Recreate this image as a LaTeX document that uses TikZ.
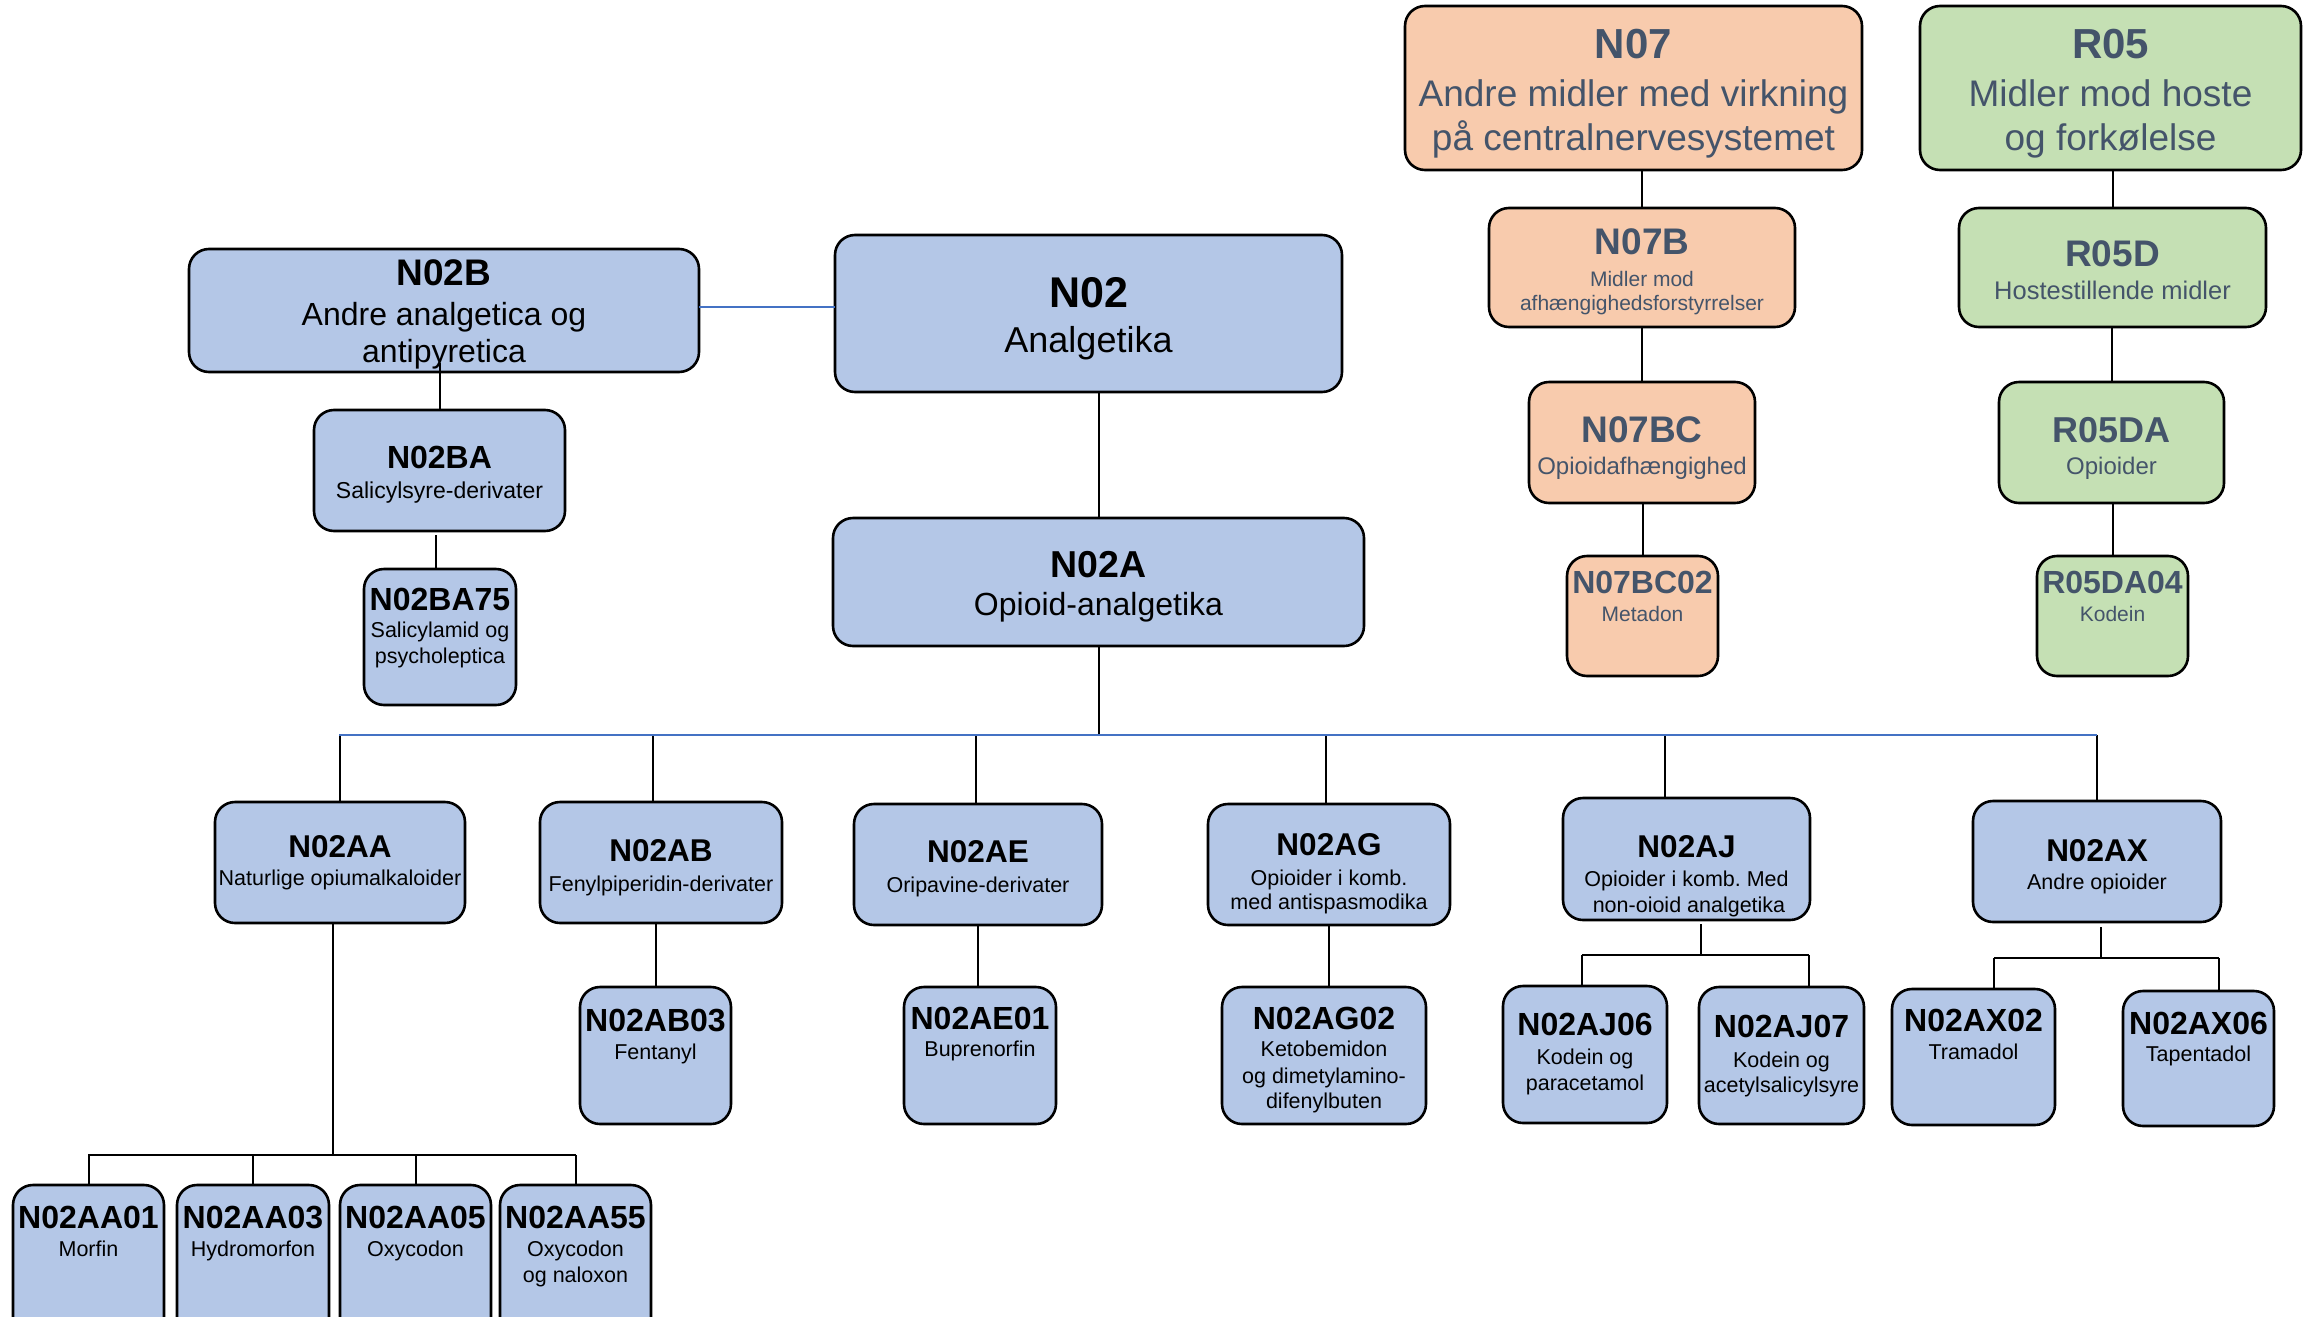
\documentclass[tikz,border=0pt]{standalone}
\usepackage{fontspec}
\setmainfont{Liberation Sans}
\usetikzlibrary{calc}
\frenchspacing
\definecolor{bfill}{HTML}{B4C7E7}
\definecolor{ofill}{HTML}{F8CBAD}
\definecolor{gfill}{HTML}{C5E0B4}
\definecolor{slate}{HTML}{44546A}
\definecolor{bline}{HTML}{4472C4}
\newcommand\fsz[1]{\fontsize{#1pt}{#1pt}\selectfont}
\newcommand\cbf[1]{\fontsize{#1pt}{#1pt}\selectfont\bfseries}
\newcommand\mkbox[6]{\node[bx,fill=#6,minimum width={(#4-#2)*1pt},minimum height={(#5-#3)*1pt}] (#1) at ({(#2+#4)/2},{(#3+#5)/2}) {};}
\newcommand\mktxt[5]{\node[tx,font={#4}] (#1) at (#2,#3) {#5};}
\begin{document}
\begin{tikzpicture}[x=1pt,y=-1pt,
 bx/.style={draw=black,line width=2.6pt,rounded corners=20pt,inner sep=0pt,outer sep=0pt},
 tx/.style={anchor=base,inner sep=0pt},
 cn/.style={draw=black,line width=2pt},
 bl/.style={draw=bline,line width=2pt}]
\useasboundingbox (0,0) rectangle (2313,1317);
\clip (0,0) rectangle (2313,1317);

% ---- boxes ----
\mkbox{N07}{1405}{6}{1862}{170}{ofill}
\mkbox{R05}{1920}{6}{2301}{170}{gfill}
\mkbox{N07B}{1489}{208}{1795}{327}{ofill}
\mkbox{R05D}{1959}{208}{2266}{327}{gfill}
\mkbox{N07BC}{1529}{382}{1755}{503}{ofill}
\mkbox{R05DA}{1999}{382}{2224}{503}{gfill}
\mkbox{N07BC02}{1567}{556}{1718}{676}{ofill}
\mkbox{R05DA04}{2037}{556}{2188}{676}{gfill}
\mkbox{N02B}{189}{249}{699}{372}{bfill}
\mkbox{N02}{835}{235}{1342}{392}{bfill}
\mkbox{N02BA}{314}{410}{565}{531}{bfill}
\mkbox{N02BA75}{364}{569}{516}{705}{bfill}
\mkbox{N02A}{833}{518}{1364}{646}{bfill}
\mkbox{N02AA}{215}{802}{465}{923}{bfill}
\mkbox{N02AB}{540}{802}{782}{923}{bfill}
\mkbox{N02AE}{854}{804}{1102}{925}{bfill}
\mkbox{N02AG}{1208}{804}{1450}{925}{bfill}
\mkbox{N02AJ}{1563}{798}{1810}{920}{bfill}
\mkbox{N02AX}{1973}{801}{2221}{922}{bfill}
\mkbox{N02AB03}{580}{987}{731}{1124}{bfill}
\mkbox{N02AE01}{904}{987}{1056}{1124}{bfill}
\mkbox{N02AG02}{1222}{987}{1426}{1124}{bfill}
\mkbox{N02AJ06}{1503}{986}{1667}{1123}{bfill}
\mkbox{N02AJ07}{1699}{987}{1864}{1124}{bfill}
\mkbox{N02AX02}{1892}{989}{2055}{1125}{bfill}
\mkbox{N02AX06}{2123}{991}{2274}{1126}{bfill}
\mkbox{N02AA01}{13}{1185}{164}{1345}{bfill}
\mkbox{N02AA03}{177}{1185}{329}{1345}{bfill}
\mkbox{N02AA05}{340}{1185}{491}{1345}{bfill}
\mkbox{N02AA55}{500}{1185}{651}{1345}{bfill}

% ---- connectors ----
\coordinate (bB) at ($(N02B.east)+(0,-4)$);
\draw[bl] (bB) -- (bB -| N02.west);
\draw[cn] (N02BA.north) -- ([yshift=9pt]N02BA.north |- N02B.south);
\coordinate (baJ) at ($(N02BA.south)+(-4,4)$);
\draw[cn] (baJ) -- (baJ |- N02BA75.north);
\draw[cn] (N02A.north) -- (N02A.north |- N02.south);

\coordinate (busL) at (339,735);
\coordinate (busR) at (2097,735);
\draw[cn] (N02A.south) -- (N02A.south |- busL);
\coordinate (dAB) at ($(N02AB.north)+(-8,0)$);
\coordinate (dAE) at ($(N02AE.north)+(-2,0)$);
\coordinate (dAG) at ($(N02AG.north)+(-3,0)$);
\coordinate (dAJ) at ($(N02AJ.north)+(-22,0)$);
\draw[cn] (N02AA.north) -- (N02AA.north |- busL);
\draw[cn] (dAB) -- (dAB |- busL);
\draw[cn] (dAE) -- (dAE |- busL);
\draw[cn] (dAG) -- (dAG |- busL);
\draw[cn] (dAJ) -- (dAJ |- busL);
\draw[cn] (N02AX.north) -- (N02AX.north |- busL);
\draw[bl] (busL) -- (busR);

% N02AA subtree
\coordinate (aaJ) at ($(N02AA.south)+(-7,0)$);
\coordinate (aaL) at (88,1155);
\coordinate (aaR) at (576,1155);
\draw[cn] (aaJ) -- (aaJ |- aaL);
\draw[cn] (aaL) -- (aaR);
\draw[cn] (N02AA01.north) -- (N02AA01.north |- aaL);
\draw[cn] (N02AA03.north) -- (N02AA03.north |- aaL);
\draw[cn] (N02AA05.north) -- (N02AA05.north |- aaL);
\draw[cn] (N02AA55.north) -- (N02AA55.north |- aaL);

\draw[cn] (N02AB03.north) -- (N02AB03.north |- N02AB.south);
\draw[cn] (N02AE.south) -- (N02AE.south |- N02AE01.north);
\draw[cn] (N02AG.south) -- (N02AG.south |- N02AG02.north);

% N02AJ subtree
\coordinate (ajJ) at ($(N02AJ.south)+(14,4)$);
\coordinate (ajL) at (1582,955);
\coordinate (ajR) at (1809,955);
\draw[cn] (ajJ) -- (ajJ |- ajL);
\draw[cn] (ajL) -- (ajR);
\draw[cn] (ajL) -- (ajL |- N02AJ06.north);
\draw[cn] (ajR) -- (ajR |- N02AJ07.north);

% N02AX subtree
\coordinate (axJ) at ($(N02AX.south)+(4,5)$);
\coordinate (axL) at (1994,958);
\coordinate (axR) at (2219,958);
\draw[cn] (axJ) -- (axJ |- axL);
\draw[cn] (axL) -- (axR);
\draw[cn] (axL) -- (axL |- N02AX02.north);
\draw[cn] (axR) -- (axR |- N02AX06.north);

% top right
\draw[cn] (N07B.north) -- (N07B.north |- N07.south);
\draw[cn] (N07BC.north) -- (N07BC.north |- N07B.south);
\draw[cn] (N07BC02.north) -- (N07BC02.north |- N07BC.south);
\draw[cn] (R05D.north) -- (R05D.north |- R05.south);
\draw[cn] (R05DA.north) -- (R05DA.north |- R05D.south);
\draw[cn] (R05DA04.north) -- (R05DA04.north |- R05DA.south);

% ---- texts (orange/green) ----
\begin{scope}[text=slate]
\mktxt{N07t1}{1633.5}{58}{\cbf{42}}{N07}
\mktxt{N07t2}{1633.5}{106}{\fsz{37}}{Andre midler med virkning}
\mktxt{N07t3}{1633.5}{150}{\fsz{37}}{på centralnervesystemet}
\mktxt{R05t1}{2110.5}{58}{\cbf{42}}{R05}
\mktxt{R05t2}{2110.5}{106}{\fsz{37}}{Midler mod hoste}
\mktxt{R05t3}{2110.5}{150}{\fsz{37}}{og forkølelse}
\mktxt{N07Bt1}{1642}{254}{\cbf{37}}{N07B}
\mktxt{N07Bt2}{1642}{286}{\fsz{21}}{Midler mod}
\mktxt{N07Bt3}{1642}{310}{\fsz{21}}{afhængighedsforstyrrelser}
\mktxt{R05Dt1}{2112.5}{266}{\cbf{37}}{R05D}
\mktxt{R05Dt2}{2112.5}{299}{\fsz{25.5}}{Hostestillende midler}
\mktxt{N07BCt1}{1642}{442}{\cbf{37}}{N07BC}
\mktxt{N07BCt2}{1642}{474}{\fsz{24}}{Opioidafhængighed}
\mktxt{R05DAt1}{2111.5}{442}{\cbf{36}}{R05DA}
\mktxt{R05DAt2}{2111.5}{474}{\fsz{24}}{Opioider}
\mktxt{N07BC02t1}{1642.5}{593}{\cbf{32}}{N07BC02}
\mktxt{N07BC02t2}{1642.5}{621}{\fsz{21}}{Metadon}
\mktxt{R05DA04t1}{2112.5}{593}{\cbf{32}}{R05DA04}
\mktxt{R05DA04t2}{2112.5}{621}{\fsz{21}}{Kodein}
\end{scope}

% ---- texts (blue) ----
\mktxt{N02Bt1}{444}{285}{\cbf{37}}{N02B}
\mktxt{N02Bt2}{444}{325}{\fsz{32}}{Andre analgetica og}
\mktxt{N02Bt3}{444}{362}{\fsz{32}}{antipyretica}
\mktxt{N02t1}{1088.5}{307}{\cbf{43}}{N02}
\mktxt{N02t2}{1088.5}{352}{\fsz{36}}{Analgetika}
\mktxt{N02BAt1}{439.5}{468}{\cbf{32}}{N02BA}
\mktxt{N02BAt2}{439.5}{498}{\fsz{23}}{Salicylsyre-derivater}
\mktxt{N02BA75t1}{440}{610}{\cbf{32}}{N02BA75}
\mktxt{N02BA75t2}{440}{637}{\fsz{21.5}}{Salicylamid og}
\mktxt{N02BA75t3}{440}{663}{\fsz{21.5}}{psycholeptica}
\mktxt{N02At1}{1098.5}{577}{\cbf{37.5}}{N02A}
\mktxt{N02At2}{1098.5}{615}{\fsz{32}}{Opioid-analgetika}

\mktxt{N02AAt1}{340}{857}{\cbf{31.5}}{N02AA}
\mktxt{N02AAt2}{340}{885}{\fsz{21.5}}{Naturlige opiumalkaloider}
\mktxt{N02ABt1}{661}{861}{\cbf{31.5}}{N02AB}
\mktxt{N02ABt2}{661}{891}{\fsz{21.5}}{Fenylpiperidin-derivater}
\mktxt{N02AEt1}{978}{862}{\cbf{31.5}}{N02AE}
\mktxt{N02AEt2}{978}{892}{\fsz{21.5}}{Oripavine-derivater}
\mktxt{N02AGt1}{1329}{855}{\cbf{31.5}}{N02AG}
\mktxt{N02AGt2}{1329}{885}{\fsz{21.5}}{Opioider i komb.}
\mktxt{N02AGt3}{1329}{909}{\fsz{21.5}}{med antispasmodika}
\mktxt{N02AJt1}{1686.5}{857}{\cbf{31.5}}{N02AJ}
\mktxt{N02AJt2}{1686.5}{886}{\fsz{21.5}}{Opioider i komb. Med}
\mktxt{N02AJt3}{1689}{912}{\fsz{21.5}}{non-oioid analgetika}
\mktxt{N02AXt1}{2097}{861}{\cbf{31.5}}{N02AX}
\mktxt{N02AXt2}{2097}{889}{\fsz{21.5}}{Andre opioider}

\mktxt{N02AB03t1}{655.5}{1031}{\cbf{32}}{N02AB03}
\mktxt{N02AB03t2}{655.5}{1059}{\fsz{21.5}}{Fentanyl}
\mktxt{N02AE01t1}{980}{1029}{\cbf{32}}{N02AE01}
\mktxt{N02AE01t2}{980}{1056}{\fsz{21.5}}{Buprenorfin}
\mktxt{N02AG02t1}{1324}{1029}{\cbf{32}}{N02AG02}
\mktxt{N02AG02t2}{1324}{1056}{\fsz{21.5}}{Ketobemidon}
\mktxt{N02AG02t3}{1324}{1083}{\fsz{21.5}}{og dimetylamino-}
\mktxt{N02AG02t4}{1324}{1108}{\fsz{21.5}}{difenylbuten}
\mktxt{N02AJ06t1}{1585}{1035}{\cbf{32}}{N02AJ06}
\mktxt{N02AJ06t2}{1585}{1064}{\fsz{21.5}}{Kodein og}
\mktxt{N02AJ06t3}{1585}{1090}{\fsz{21.5}}{paracetamol}
\mktxt{N02AJ07t1}{1781.5}{1037}{\cbf{32}}{N02AJ07}
\mktxt{N02AJ07t2}{1781.5}{1067}{\fsz{21.5}}{Kodein og}
\mktxt{N02AJ07t3}{1781.5}{1092}{\fsz{21.5}}{acetylsalicylsyre}
\mktxt{N02AX02t1}{1973.5}{1031}{\cbf{32}}{N02AX02}
\mktxt{N02AX02t2}{1973.5}{1059}{\fsz{21.5}}{Tramadol}
\mktxt{N02AX06t1}{2198.5}{1034}{\cbf{32}}{N02AX06}
\mktxt{N02AX06t2}{2198.5}{1061}{\fsz{21.5}}{Tapentadol}

\mktxt{N02AA01t1}{88.5}{1228}{\cbf{32}}{N02AA01}
\mktxt{N02AA01t2}{88.5}{1256}{\fsz{21.5}}{Morfin}
\mktxt{N02AA03t1}{253}{1228}{\cbf{32}}{N02AA03}
\mktxt{N02AA03t2}{253}{1256}{\fsz{21.5}}{Hydromorfon}
\mktxt{N02AA05t1}{415.5}{1228}{\cbf{32}}{N02AA05}
\mktxt{N02AA05t2}{415.5}{1256}{\fsz{21.5}}{Oxycodon}
\mktxt{N02AA55t1}{575.5}{1228}{\cbf{32}}{N02AA55}
\mktxt{N02AA55t2}{575.5}{1256}{\fsz{21.5}}{Oxycodon}
\mktxt{N02AA55t3}{575.5}{1282}{\fsz{21.5}}{og naloxon}
\end{tikzpicture}
\end{document}
